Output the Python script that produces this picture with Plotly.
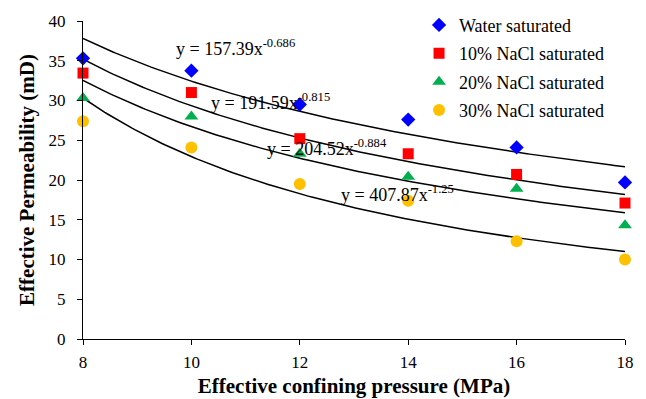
import numpy as np
import plotly.graph_objects as go

pressure = [8, 10, 12, 14, 16, 18]
water = [35.3, 33.75, 29.5, 27.6, 24.1, 19.7]
nacl10 = [33.45, 31.0, 25.2, 23.3, 20.7, 17.1]
nacl20 = [30.3, 28.0, 23.3, 20.4, 18.9, 14.3]
nacl30 = [27.4, 24.1, 19.5, 17.4, 12.3, 10.0]

series_names = ["Water saturated", "10% NaCl saturated", "20% NaCl saturated", "30% NaCl saturated"]
series_values = [water, nacl10, nacl20, nacl30]
colors = ["#0000FF", "#FF0000", "#00B050", "#FFC000"]
symbols = ["diamond", "square", "triangle-up", "circle"]
sizes = [11, 11, 12, 12]

# power-law trendline coefficients shown in chart
fit_a = [157.39, 191.59, 204.52, 407.87]
fit_b = [-0.686, -0.815, -0.884, -1.25]
eq_labels = ["y = 157.39x<sup>-0.686</sup>", "y = 191.59x<sup>-0.815</sup>",
             "y = 204.52x<sup>-0.884</sup>", "y = 407.87x<sup>-1.25</sup>"]
eq_x = [9.68, 10.32, 11.36, 12.72]
eq_y = [36.7, 29.9, 24.1, 18.3]

font = "Liberation Serif"

fig = go.Figure()
xs = np.linspace(min(pressure), max(pressure), 200)
for a, b in zip(fit_a, fit_b):
    fig.add_trace(go.Scatter(x=xs, y=a * xs ** b, mode="lines",
                             line=dict(color="black", width=1.5),
                             showlegend=False, hoverinfo="skip"))

for i, (name, vals) in enumerate(zip(series_names, series_values)):
    fig.add_trace(go.Scatter(x=pressure, y=vals, mode="markers", name=name,
                             legendgroup=name,
                             marker=dict(symbol=symbols[i], color=colors[i], size=sizes[i],
                                         line=dict(width=0)),
                             cliponaxis=False))

for lab, x, y in zip(eq_labels, eq_x, eq_y):
    fig.add_annotation(x=x, y=y, text=lab, showarrow=False, xanchor="left", yanchor="middle",
                       font=dict(family=font, size=18, color="black"))

fig.update_layout(
    width=638, height=391,
    margin=dict(l=75, r=21, t=13, b=60, autoexpand=False),
    plot_bgcolor="white", paper_bgcolor="white",
    font=dict(family=font, size=17, color="black"),
    showlegend=True,
    legend=dict(x=0.62, y=1.045, xanchor="left", yanchor="top",
                font=dict(family=font, size=18, color="black"),
                bgcolor="rgba(0,0,0,0)", tracegroupgap=2, itemwidth=30),
    xaxis=dict(range=[8, 18], tickvals=pressure, showline=True, linecolor="black", linewidth=1,
               ticks="outside", ticklen=5, tickcolor="black", showgrid=False, zeroline=False,
               automargin=False, ticklabelstandoff=3,
               title=dict(text="<b>Effective confining pressure (MPa)</b>",
                          font=dict(family=font, size=21), standoff=6),
               tickfont=dict(family=font, size=17)),
    yaxis=dict(range=[0, 40], dtick=5, showline=True, linecolor="black", linewidth=1,
               ticks="outside", ticklen=5, tickcolor="black", showgrid=False, zeroline=False,
               automargin=False, ticklabelstandoff=8,
               title=dict(text="<b>Effective Permeability (mD)</b>",
                          font=dict(family=font, size=21), standoff=8),
               tickfont=dict(family=font, size=17)),
)

fig.write_html("out.html")
